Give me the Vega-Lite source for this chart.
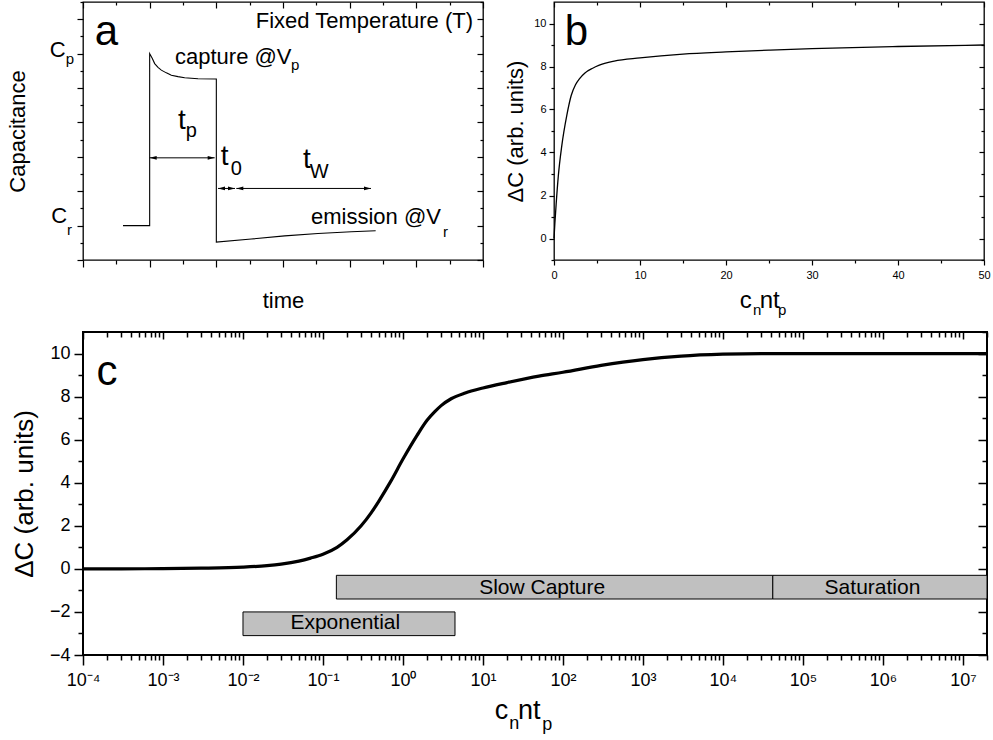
{
  "$schema": "https://vega.github.io/schema/vega-lite/v6.json",
  "padding": {"left": 5, "top": 0, "right": 0, "bottom": 0},
  "background": "white",
  "spacing": 11,
  "config": {
    "font": "Liberation Sans",
    "axis": {"labelFont": "Liberation Sans", "titleFont": "Liberation Sans", "labelColor": "#000", "titleColor": "#000", "tickColor": "#000", "grid": false, "domain": false, "titleFontWeight": "normal", "labelFlush": false, "labelOverlap": false, "labelBound": false, "tickWidth": 1.2},
    "view": {"stroke": "#000"},
    "text": {"font": "Liberation Sans", "color": "#000"}
  },
  "datasets": {
    "aCurve": [
      {"i": 0, "x": 0.6, "y": 0}, {"i": 1, "x": 1.0, "y": 0}, {"i": 2, "x": 1.0, "y": 5.0},
      {"i": 3, "x": 1.04, "y": 4.86}, {"i": 4, "x": 1.075, "y": 4.71}, {"i": 5, "x": 1.125, "y": 4.6},
      {"i": 6, "x": 1.175, "y": 4.52}, {"i": 7, "x": 1.25, "y": 4.44}, {"i": 8, "x": 1.325, "y": 4.37},
      {"i": 9, "x": 1.425, "y": 4.33}, {"i": 10, "x": 1.525, "y": 4.3}, {"i": 11, "x": 1.725, "y": 4.27},
      {"i": 12, "x": 2.0, "y": 4.26}, {"i": 13, "x": 2.0, "y": -0.48}, {"i": 14, "x": 2.525, "y": -0.39},
      {"i": 15, "x": 3.025, "y": -0.3}, {"i": 16, "x": 3.525, "y": -0.23}, {"i": 17, "x": 4.025, "y": -0.18},
      {"i": 18, "x": 4.39, "y": -0.15}
    ],
    "aArrows": [
      {"x": 1.0, "x2": 1.975, "y": 1.97},
      {"x": 2.025, "x2": 2.28, "y": 1.08},
      {"x": 2.3, "x2": 4.32, "y": 1.08}
    ],
    "aBig": [{"x": 0.175, "y": 5.245, "t": "a"}],
    "aMed": [
      {"x": 1.38, "y": 4.71, "t": "capture @V"},
      {"x": 3.42, "y": 0.06, "t": "emission @V"},
      {"x": -0.5, "y": 4.905, "t": "C"},
      {"x": -0.475, "y": 0.067, "t": "C"}
    ],
    "aFixed": [{"x": 5.85, "y": 5.73, "t": "Fixed Temperature (T)"}],
    "aSub": [
      {"x": 3.12, "y": 4.51, "t": "p"},
      {"x": 5.4, "y": -0.32, "t": "r"},
      {"x": -0.26, "y": 4.71, "t": "p"},
      {"x": -0.24, "y": -0.26, "t": "r"}
    ],
    "aT": [
      {"x": 1.425, "y": 2.82, "t": "t"},
      {"x": 2.065, "y": 1.76, "t": "t"},
      {"x": 3.3, "y": 1.66, "t": "t"}
    ],
    "aTsub": [
      {"x": 1.54, "y": 2.57, "t": "p"},
      {"x": 2.215, "y": 1.48, "t": "0"},
      {"x": 3.4, "y": 1.37, "t": "W"}
    ],
    "bCurve": [
      {"x": 0, "y": 0}, {"x": 0.1, "y": 0.7}, {"x": 0.25, "y": 1.6}, {"x": 0.5, "y": 2.9},
      {"x": 0.9, "y": 4.3}, {"x": 1.5, "y": 5.75}, {"x": 2.0, "y": 6.65}, {"x": 2.5, "y": 7.15},
      {"x": 3.0, "y": 7.45}, {"x": 3.6, "y": 7.7}, {"x": 4.5, "y": 7.92}, {"x": 5.2, "y": 8.05},
      {"x": 7, "y": 8.25}, {"x": 10, "y": 8.4}, {"x": 15, "y": 8.58}, {"x": 20, "y": 8.68},
      {"x": 25, "y": 8.76}, {"x": 30, "y": 8.83}, {"x": 40, "y": 8.93}, {"x": 50, "y": 9.0}
    ],
    "bLabel": [{"x": 1.24, "y": 9.0, "t": "b"}],
    "bTitleMain": [{"x": 21.59, "y": -3.22, "t": "c"}, {"x": 23.92, "y": -3.22, "t": "nt"}],
    "bTitleSub": [{"x": 23.14, "y": -3.55, "t": "n"}, {"x": 26.05, "y": -3.55, "t": "p"}],
    "cCurve": [
      {"x": 0.0001, "y": 0}, {"x": 0.0003, "y": 0.003}, {"x": 0.001, "y": 0.01}, {"x": 0.003, "y": 0.03},
      {"x": 0.01, "y": 0.08}, {"x": 0.02, "y": 0.15}, {"x": 0.03, "y": 0.22}, {"x": 0.05, "y": 0.36},
      {"x": 0.07, "y": 0.5}, {"x": 0.1, "y": 0.68}, {"x": 0.15, "y": 1.0}, {"x": 0.2, "y": 1.35},
      {"x": 0.3, "y": 2.0}, {"x": 0.4, "y": 2.6}, {"x": 0.5, "y": 3.15}, {"x": 0.7, "y": 4.05},
      {"x": 1.0, "y": 5.1}, {"x": 1.5, "y": 6.2}, {"x": 2, "y": 6.9}, {"x": 2.5, "y": 7.3},
      {"x": 3, "y": 7.58}, {"x": 4, "y": 7.9}, {"x": 6, "y": 8.17}, {"x": 10, "y": 8.4},
      {"x": 20, "y": 8.65}, {"x": 50, "y": 8.95}, {"x": 100, "y": 9.13}, {"x": 300, "y": 9.45},
      {"x": 1000, "y": 9.72}, {"x": 3000, "y": 9.88}, {"x": 10000, "y": 9.97}, {"x": 30000, "y": 10.0},
      {"x": 100000, "y": 10.0}, {"x": 20000000, "y": 10.0}
    ],
    "cBars": [
      {"name": "Slow Capture", "x1": 0.147, "x2": 42000, "y1": -1.4, "y2": -0.3},
      {"name": "Saturation", "x1": 42000, "x2": 20000000, "y1": -1.4, "y2": -0.3},
      {"name": "Exponential", "x1": 0.01, "x2": 4.47, "y1": -3.1, "y2": -2.0}
    ],
    "cBarText": [
      {"x": 55, "y": -0.9, "t": "Slow Capture"},
      {"x": 740000, "y": -0.9, "t": "Saturation"},
      {"x": 0.19, "y": -2.52, "t": "Exponential"}
    ],
    "cLabel": [{"x": 0.000147, "y": 8.53, "t": "c"}],
    "cTitleMain": [{"x": 14.0, "y": -6.95, "t": "c"}, {"x": 27.4, "y": -6.95, "t": "nt"}],
    "cTitleSub": [{"x": 21.3, "y": -7.45, "t": "n"}, {"x": 55.0, "y": -7.49, "t": "p"}]
  },
  "vconcat": [
    {
      "hconcat": [
        {
          "width": 400,
          "height": 258,
          "view": {"stroke": "#000", "strokeWidth": 1.3},
          "encoding": {
            "x": {"field": "x", "type": "quantitative", "scale": {"domain": [0, 6], "nice": false, "zero": false}, "axis": null},
            "y": {"field": "y", "type": "quantitative", "scale": {"domain": [-1, 6.5], "nice": false, "zero": false}, "axis": null}
          },
          "layer": [
            {
              "data": {"name": "aCurve"},
              "mark": {"type": "line", "color": "#000", "strokeWidth": 1.1},
              "encoding": {
                "x": {"field": "x", "type": "quantitative", "scale": {"domain": [0, 6], "nice": false, "zero": false},
                  "axis": {"orient": "bottom", "values": [0, 0.5, 1, 1.5, 2, 2.5, 3, 3.5, 4, 4.5, 5, 5.5, 6], "labels": false, "title": "time", "titleFontSize": 22, "titlePadding": 23,
                    "tickSize": {"condition": {"test": "datum.value % 1 === 0", "value": 7}, "value": 4}}},
                "y": {"field": "y", "type": "quantitative", "scale": {"domain": [-1, 6.5], "nice": false, "zero": false},
                  "axis": {"orient": "left", "values": [-1, -0.5, 0, 0.5, 1, 1.5, 2, 2.5, 3, 3.5, 4, 4.5, 5, 5.5, 6, 6.5], "labels": false, "title": "Capacitance", "titleFontSize": 22, "titlePadding": 47,
                    "tickSize": {"condition": {"test": "datum.value % 1 === 0", "value": 6}, "value": 3}}},
                "order": {"field": "i", "type": "quantitative"}
              }
            },
            {
              "data": {"name": "aArrows"},
              "mark": {"type": "rule", "color": "#000", "strokeWidth": 1},
              "encoding": {
                "x": {"field": "x", "type": "quantitative", "scale": {"domain": [0, 6], "nice": false, "zero": false},
                  "axis": {"orient": "top", "values": [0, 0.5, 1, 1.5, 2, 2.5, 3, 3.5, 4, 4.5, 5, 5.5, 6], "labels": false, "title": null, "minExtent": 0, "maxExtent": 0,
                    "tickSize": {"condition": {"test": "datum.value % 1 === 0", "value": -6}, "value": -3}}},
                "x2": {"field": "x2"},
                "y": {"field": "y", "type": "quantitative", "scale": {"domain": [-1, 6.5], "nice": false, "zero": false},
                  "axis": {"orient": "right", "values": [-1, -0.5, 0, 0.5, 1, 1.5, 2, 2.5, 3, 3.5, 4, 4.5, 5, 5.5, 6, 6.5], "labels": false, "title": null, "minExtent": 0, "maxExtent": 0,
                    "tickSize": {"condition": {"test": "datum.value % 1 === 0", "value": -6}, "value": -3}}}
              }
            },
            {
              "data": {"name": "aArrows"},
              "mark": {"type": "point", "shape": "M0,0L2,-0.55L2,0.55Z", "filled": true, "color": "#000", "size": 49, "opacity": 1, "strokeWidth": 0}
            },
            {
              "data": {"name": "aArrows"},
              "mark": {"type": "point", "shape": "M0,0L-2,-0.55L-2,0.55Z", "filled": true, "color": "#000", "size": 49, "opacity": 1, "strokeWidth": 0},
              "encoding": {
                "x": {"field": "x2", "type": "quantitative", "scale": {"domain": [0, 6], "nice": false, "zero": false}, "axis": null}
              }
            },
            {
              "data": {"name": "aBig"},
              "mark": {"type": "text", "align": "left", "baseline": "alphabetic", "fontSize": 42},
              "encoding": {"text": {"field": "t"}}
            },
            {
              "data": {"name": "aMed"},
              "mark": {"type": "text", "align": "left", "baseline": "alphabetic", "fontSize": 22},
              "encoding": {"text": {"field": "t"}}
            },
            {
              "data": {"name": "aFixed"},
              "mark": {"type": "text", "align": "right", "baseline": "alphabetic", "fontSize": 22},
              "encoding": {"text": {"field": "t"}}
            },
            {
              "data": {"name": "aSub"},
              "mark": {"type": "text", "align": "left", "baseline": "alphabetic", "fontSize": 15},
              "encoding": {"text": {"field": "t"}}
            },
            {
              "data": {"name": "aT"},
              "mark": {"type": "text", "align": "left", "baseline": "alphabetic", "fontSize": 28},
              "encoding": {"text": {"field": "t"}}
            },
            {
              "data": {"name": "aTsub"},
              "mark": {"type": "text", "align": "left", "baseline": "alphabetic", "fontSize": 20},
              "encoding": {"text": {"field": "t"}}
            }
          ],
          "resolve": {"axis": {"x": "independent", "y": "independent"}}
        },
        {
          "width": 430,
          "height": 258,
          "view": {"stroke": "#000", "strokeWidth": 1.3},
          "encoding": {
            "x": {"field": "x", "type": "quantitative", "scale": {"domain": [0, 50], "nice": false, "zero": false}, "axis": null},
            "y": {"field": "y", "type": "quantitative", "scale": {"domain": [-1, 11], "nice": false, "zero": false}, "axis": null}
          },
          "layer": [
            {
              "data": {"name": "bCurve"},
              "mark": {"type": "line", "color": "#000", "strokeWidth": 1.3, "interpolate": "monotone"},
              "encoding": {
                "x": {"field": "x", "type": "quantitative", "scale": {"domain": [0, 50], "nice": false, "zero": false},
                  "axis": {"orient": "bottom", "values": [0, 5, 10, 15, 20, 25, 30, 35, 40, 45, 50], "labelExpr": "datum.value % 10 === 0 ? datum.label : ''", "labelFontSize": 11, "labelPadding": 4, "title": null,
                    "tickSize": {"condition": {"test": "datum.value % 10 === 0", "value": 5}, "value": 3}}},
                "y": {"field": "y", "type": "quantitative", "scale": {"domain": [-1, 11], "nice": false, "zero": false},
                  "axis": {"orient": "left", "values": [-1, 0, 1, 2, 3, 4, 5, 6, 7, 8, 9, 10], "labelExpr": "datum.value % 2 === 0 ? datum.label : ''", "labelFontSize": 11, "labelPadding": 3, "title": "ΔC (arb. units)", "titleFontSize": 22, "titlePadding": 6,
                    "tickSize": {"condition": {"test": "datum.value % 2 === 0", "value": 5}, "value": 3}}}
              }
            },
            {
              "data": {"name": "bLabel"},
              "mark": {"type": "text", "align": "left", "baseline": "alphabetic", "fontSize": 42},
              "encoding": {
                "x": {"field": "x", "type": "quantitative", "scale": {"domain": [0, 50], "nice": false, "zero": false},
                  "axis": {"orient": "top", "values": [0, 5, 10, 15, 20, 25, 30, 35, 40, 45, 50], "labels": false, "title": null, "minExtent": 0, "maxExtent": 0,
                    "tickSize": {"condition": {"test": "datum.value % 10 === 0", "value": -5}, "value": -3}}},
                "y": {"field": "y", "type": "quantitative", "scale": {"domain": [-1, 11], "nice": false, "zero": false},
                  "axis": {"orient": "right", "values": [-1, 0, 1, 2, 3, 4, 5, 6, 7, 8, 9, 10], "labels": false, "title": null, "minExtent": 0, "maxExtent": 0,
                    "tickSize": {"condition": {"test": "datum.value % 2 === 0", "value": -5}, "value": -3}}},
                "text": {"field": "t"}
              }
            },
            {
              "data": {"name": "bTitleMain"},
              "mark": {"type": "text", "align": "left", "baseline": "alphabetic", "fontSize": 24},
              "encoding": {"text": {"field": "t"}}
            },
            {
              "data": {"name": "bTitleSub"},
              "mark": {"type": "text", "align": "left", "baseline": "alphabetic", "fontSize": 15},
              "encoding": {"text": {"field": "t"}}
            }
          ],
          "resolve": {"axis": {"x": "independent", "y": "independent"}}
        }
      ],
      "spacing": 71,
      "bounds": "flush"
    },
    {
      "width": 904,
      "height": 323,
      "view": {"stroke": "#000", "strokeWidth": 2},
      "encoding": {
        "x": {"field": "x", "type": "quantitative", "scale": {"type": "log", "domain": [0.0001, 20000000], "nice": false}, "axis": null},
        "y": {"field": "y", "type": "quantitative", "scale": {"domain": [-4, 11], "nice": false, "zero": false}, "axis": null}
      },
      "layer": [
        {
          "data": {"name": "cBars"},
          "mark": {"type": "rect", "fill": "#c0c0c0", "stroke": "#000", "strokeWidth": 1},
          "encoding": {
            "x": {"field": "x1", "type": "quantitative", "scale": {"type": "log", "domain": [0.0001, 20000000], "nice": false},
              "axis": {"orient": "top", "labels": false, "title": null, "minExtent": 0, "maxExtent": 0,
                "values": [0.0001,0.0002,0.0003,0.0004,0.0005,0.0006,0.0007,0.0008,0.0009,0.001,0.002,0.003,0.004,0.005,0.006,0.007,0.008,0.009,0.01,0.02,0.03,0.04,0.05,0.06,0.07,0.08,0.09,0.1,0.2,0.3,0.4,0.5,0.6,0.7,0.8,0.9,1,2,3,4,5,6,7,8,9,10,20,30,40,50,60,70,80,90,100,200,300,400,500,600,700,800,900,1000,2000,3000,4000,5000,6000,7000,8000,9000,10000,20000,30000,40000,50000,60000,70000,80000,90000,100000,200000,300000,400000,500000,600000,700000,800000,900000,1000000,2000000,3000000,4000000,5000000,6000000,7000000,8000000,9000000,10000000,20000000],
                "tickWidth": 1.5,
                "tickSize": {"condition": {"test": "abs(log(datum.value)/LN10 - round(log(datum.value)/LN10)) < 0.001", "value": -7}, "value": -5}}},
            "x2": {"field": "x2"},
            "y": {"field": "y1", "type": "quantitative", "scale": {"domain": [-4, 11], "nice": false, "zero": false},
              "axis": {"orient": "right", "labels": false, "title": null, "minExtent": 0, "maxExtent": 0, "values": [-4,-3,-2,-1,0,1,2,3,4,5,6,7,8,9,10,11], "tickWidth": 1.5,
                "tickSize": {"condition": {"test": "datum.value % 2 === 0", "value": -9}, "value": -5}}},
            "y2": {"field": "y2"}
          }
        },
        {
          "data": {"name": "cCurve"},
          "mark": {"type": "line", "color": "#000", "strokeWidth": 3.2, "interpolate": "monotone"},
          "encoding": {
            "x": {"field": "x", "type": "quantitative", "scale": {"type": "log", "domain": [0.0001, 20000000], "nice": false},
              "axis": {"orient": "bottom", "title": null, "labelFontSize": 18, "labelPadding": 6, "tickWidth": 1.5,
                "values": [0.0001,0.0002,0.0003,0.0004,0.0005,0.0006,0.0007,0.0008,0.0009,0.001,0.002,0.003,0.004,0.005,0.006,0.007,0.008,0.009,0.01,0.02,0.03,0.04,0.05,0.06,0.07,0.08,0.09,0.1,0.2,0.3,0.4,0.5,0.6,0.7,0.8,0.9,1,2,3,4,5,6,7,8,9,10,20,30,40,50,60,70,80,90,100,200,300,400,500,600,700,800,900,1000,2000,3000,4000,5000,6000,7000,8000,9000,10000,20000,30000,40000,50000,60000,70000,80000,90000,100000,200000,300000,400000,500000,600000,700000,800000,900000,1000000,2000000,3000000,4000000,5000000,6000000,7000000,8000000,9000000,10000000,20000000],
                "labelExpr": "abs(log(datum.value)/LN10 - round(log(datum.value)/LN10)) < 0.001 ? ['10⁻⁴','10⁻³','10⁻²','10⁻¹','10⁰','10¹','10²','10³','10⁴','10⁵','10⁶','10⁷'][round(log(datum.value)/LN10) + 4] : ''",
                "tickSize": {"condition": {"test": "abs(log(datum.value)/LN10 - round(log(datum.value)/LN10)) < 0.001", "value": 10}, "value": 5}}},
            "y": {"field": "y", "type": "quantitative", "scale": {"domain": [-4, 11], "nice": false, "zero": false},
              "axis": {"orient": "left", "values": [-4,-3,-2,-1,0,1,2,3,4,5,6,7,8,9,10], "labelExpr": "datum.value % 2 === 0 ? datum.label : ''", "labelFontSize": 18, "labelPadding": 4, "tickWidth": 1.5,
                "title": "ΔC (arb. units)", "titleFontSize": 26, "titlePadding": 12,
                "tickSize": {"condition": {"test": "datum.value % 2 === 0", "value": 9}, "value": 5}}}
          }
        },
        {
          "data": {"name": "cBarText"},
          "mark": {"type": "text", "align": "center", "baseline": "middle", "fontSize": 21},
          "encoding": {"text": {"field": "t"}}
        },
        {
          "data": {"name": "cLabel"},
          "mark": {"type": "text", "align": "left", "baseline": "alphabetic", "fontSize": 42},
          "encoding": {"text": {"field": "t"}}
        },
        {
          "data": {"name": "cTitleMain"},
          "mark": {"type": "text", "align": "left", "baseline": "alphabetic", "fontSize": 27},
          "encoding": {"text": {"field": "t"}}
        },
        {
          "data": {"name": "cTitleSub"},
          "mark": {"type": "text", "align": "left", "baseline": "alphabetic", "fontSize": 18},
          "encoding": {"text": {"field": "t"}}
        }
      ],
      "resolve": {"axis": {"x": "independent", "y": "independent"}}
    }
  ]
}
